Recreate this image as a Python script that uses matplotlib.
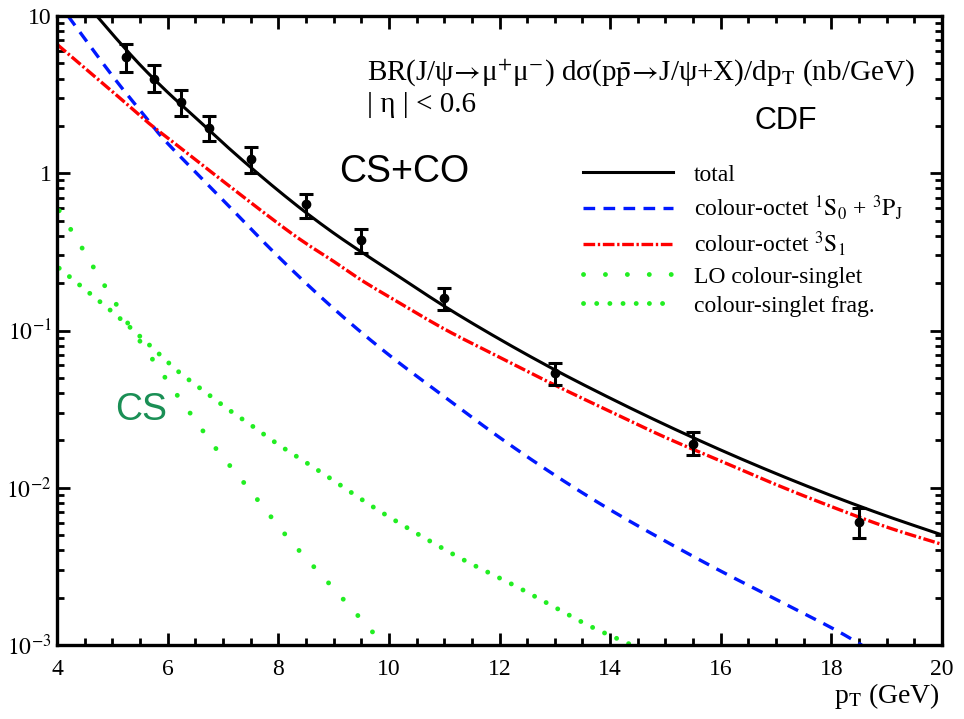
import numpy as np
import matplotlib
matplotlib.use("Agg")
import matplotlib.pyplot as plt
from matplotlib.ticker import FixedLocator, FixedFormatter, MultipleLocator, LogLocator

plt.rcParams['font.family'] = ['Liberation Serif', 'DejaVu Serif']
plt.rcParams['mathtext.fontset'] = 'stix'

# CDF data points (pT in GeV, value in nb/GeV) with error bar ends
pt_data = [5.25, 5.75, 6.25, 6.75, 7.5, 8.5, 9.5, 11.0, 13.0, 15.5, 18.5]
y_data = [5.5, 4.0, 2.85, 1.95, 1.23, 0.635, 0.375, 0.16, 0.054, 0.019, 0.0061]
y_low = [4.4, 3.3, 2.3, 1.6, 1.0, 0.52, 0.31, 0.135, 0.045, 0.0161, 0.0048]
y_high = [6.6, 4.9, 3.4, 2.3, 1.46, 0.74, 0.44, 0.185, 0.062, 0.0227, 0.0074]

# theory curves, log10 of the cross section
pt_total = [4.72, 5.0, 5.5, 6.0, 6.5, 7.0, 7.5, 8.0, 8.5, 9.0, 9.5, 10.0, 11.0, 12.0,
            13.0, 14.0, 15.0, 16.0, 17.0, 18.0, 19.0, 20.0]
log_total = [1.0, 0.885, 0.69, 0.515, 0.355, 0.193, 0.038, -0.11, -0.25, -0.38, -0.50,
             -0.615, -0.845, -1.055, -1.25, -1.43, -1.60, -1.76, -1.91, -2.05, -2.18, -2.30]

pt_octet1 = [4.2, 5.0, 5.62, 6.0, 7.0, 8.0, 9.0, 10.0, 11.0, 12.0, 13.0, 14.0, 15.0,
             16.0, 17.0, 18.0, 18.55]
log_octet1 = [1.0, 0.62, 0.35, 0.19, -0.17, -0.53, -0.86, -1.155, -1.42, -1.68, -1.92,
              -2.14, -2.34, -2.53, -2.71, -2.89, -3.0]

pt_octet3 = [4.0, 5.0, 5.62, 6.0, 7.0, 8.0, 8.5, 9.0, 9.5, 10.0, 11.0, 12.0, 13.0,
             14.0, 15.0, 16.0, 17.0, 18.0, 19.0, 20.0]
log_octet3 = [0.82, 0.52, 0.33, 0.225, -0.05, -0.32, -0.446, -0.56, -0.679, -0.785,
              -0.99, -1.17, -1.347, -1.515, -1.68, -1.83, -1.98, -2.12, -2.25, -2.36]

pt_lo = [4.04, 4.36, 4.66, 4.98, 5.31, 5.8, 6.15, 6.5, 6.86, 7.43, 8.18, 9.0, 9.89]
log_lo = [-0.238, -0.42, -0.6, -0.78, -0.97, -1.22, -1.40, -1.57, -1.745, -1.99,
          -2.32, -2.64, -2.99]

pt_frag = [4.04, 4.63, 5.17, 5.77, 6.19, 6.64, 7.09, 7.55, 8.0, 8.48, 8.94, 9.9,
           11.2, 12.37, 13.55, 14.39]
log_frag = [-0.604, -0.774, -0.933, -1.124, -1.26, -1.38, -1.50, -1.612, -1.725,
            -1.834, -1.94, -2.163, -2.43, -2.64, -2.865, -3.0]

y_ticks = [1e-3, 1e-2, 1e-1, 1, 10]
y_tick_labels = [r'$10^{-3}$', r'$10^{-2}$', r'$10^{-1}$', '1', '10']
x_ticks = [4, 6, 8, 10, 12, 14, 16, 18, 20]


# Catmull-Rom spline through the read points (in pT, log10 y)
def smooth(px, logy, n=30):
    p = np.column_stack([px, logy])
    p = np.vstack([2 * p[0] - p[1], p, 2 * p[-1] - p[-2]])
    t = np.linspace(0, 1, n, endpoint=False)[:, None]
    out = []
    for i in range(1, len(p) - 2):
        p0, p1, p2, p3 = p[i - 1], p[i], p[i + 1], p[i + 2]
        out.append(0.5 * (2 * p1 + (-p0 + p2) * t + (2 * p0 - 5 * p1 + 4 * p2 - p3) * t ** 2
                          + (-p0 + 3 * p1 - 3 * p2 + p3) * t ** 3))
    out.append(p[-2][None, :])
    pts = np.vstack(out)
    return pts[:, 0], 10 ** pts[:, 1]


fig = plt.figure(figsize=(9.64, 7.19), dpi=100)
ax = fig.add_axes([57 / 964, 1 - 645 / 719, (942 - 57) / 964, (645 - 16) / 719])

x, y = smooth(pt_total, log_total)
ax.plot(x, y, color='black', lw=2.2, label='total')
x, y = smooth(pt_octet1, log_octet1)
ax.plot(x, y, color='#0018ff', lw=2.4, ls=(0, (3.5, 2.5)),
        label=r'colour-octet $^{1}\mathrm{S}_{0}$ + $^{3}\mathrm{P}_{\mathrm{J}}$')
x, y = smooth(pt_octet3, log_octet3)
ax.plot(x, y, color='#ff0000', lw=2.4, ls=(0, (3.5, 0.8, 0.7, 0.8)),
        label=r'colour-octet $^{3}\mathrm{S}_{1}$')
x, y = smooth(pt_lo, log_lo)
ax.plot(x, y, color='#22ee22', lw=3.5, ls=(0, (0.01, 4.5)), dash_capstyle='round',
        label='LO colour-singlet')
x, y = smooth(pt_frag, log_frag)
ax.plot(x, y, color='#22ee22', lw=3.5, ls=(0, (0.01, 2.7)), dash_capstyle='round',
        label='colour-singlet frag.')

yerr = [np.array(y_data) - np.array(y_low), np.array(y_high) - np.array(y_data)]
ax.errorbar(pt_data, y_data, yerr=yerr, fmt='o', color='black', ms=6,
            elinewidth=2.2, capsize=5, capthick=2.2, zorder=5)

ax.set_yscale('log')
ax.set_xlim(4, 20)
ax.set_ylim(1e-3, 10)
ax.xaxis.set_major_locator(FixedLocator(x_ticks))
ax.xaxis.set_minor_locator(MultipleLocator(0.5))
ax.yaxis.set_major_locator(FixedLocator(y_ticks))
ax.yaxis.set_major_formatter(FixedFormatter(y_tick_labels))
ax.yaxis.set_minor_locator(LogLocator(base=10, subs=np.arange(2, 10), numticks=20))
ax.yaxis.set_minor_formatter(FixedFormatter([]))
ax.tick_params(which='both', direction='in', top=True, right=True, labelsize=17, width=2)
ax.tick_params(which='major', length=9)
ax.tick_params(which='minor', length=5)
ax.tick_params(axis='x', which='major', pad=10)
ax.tick_params(axis='y', which='major', pad=4)
for s in ax.spines.values():
    s.set_linewidth(2.4)

ax.legend(loc='upper left', bbox_to_anchor=(583 / 964, 1 - 164 / 719),
          bbox_transform=fig.transFigure, frameon=False, fontsize=17,
          handlelength=3.8, handletextpad=0.9, labelspacing=0.32,
          borderaxespad=0, borderpad=0)

fig.text(367 / 964, 1 - 80 / 719,
         r'BR(J/ψ$\!\rightarrow\!$μ$^{+}$μ$^{-}$) dσ(p$\bar{\mathrm{p}}\!\rightarrow\!$J/ψ+X)/dp$_{\mathrm{T}}$ (nb/GeV)',
         fontsize=21, va='baseline', ha='left')
fig.text(367 / 964, 1 - 112 / 719, '| η | < 0.6', fontsize=21, va='baseline', ha='left')
fig.text(786 / 964, 1 - 121 / 719, 'CDF', family='Liberation Sans', fontsize=22,
         ha='center', va='center')
fig.text(404 / 964, 1 - 172 / 719, 'CS+CO', family='Liberation Sans', fontsize=27,
         ha='center', va='center')
fig.text(141 / 964, 1 - 410 / 719, 'CS', family='Liberation Sans', fontsize=27,
         color='#1a8f55', ha='center', va='center')
fig.text(940 / 964, 1 - 703 / 719, r'p$_{\mathrm{T}}$ (GeV)', fontsize=20,
         ha='right', va='baseline')

fig.savefig('out.png', dpi=100)
